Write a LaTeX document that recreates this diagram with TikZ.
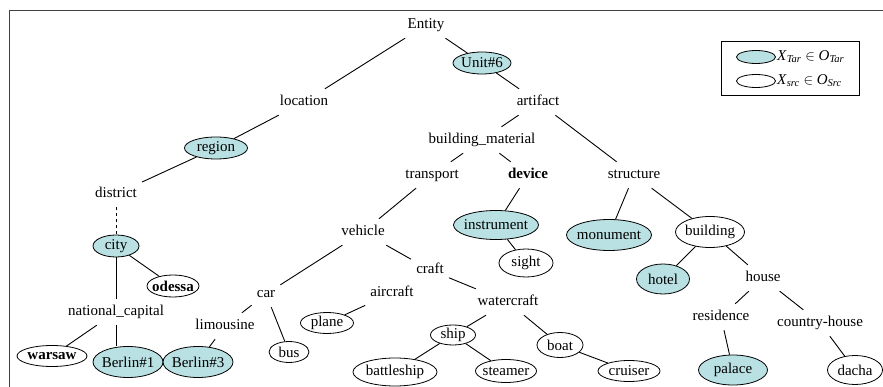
\documentclass[tikz,border=0pt]{standalone}
\usepackage{fontspec}
\setmainfont{Liberation Serif}
\usetikzlibrary{shapes.geometric}
\definecolor{tarfill}{RGB}{185,224,226}
\newcommand{\fs}{\fontsize{15}{18}\selectfont}
\tikzset{
  lbl/.style={font=\fs, inner xsep=5pt, inner ysep=6pt, text height=10.5pt, text depth=3.5pt},
  tar/.style={ellipse, draw, fill=tarfill, line width=0.8pt, inner xsep=-5pt, inner ysep=-3pt, font=\fs},
  srcn/.style={ellipse, draw, fill=white, line width=0.8pt, inner xsep=-5pt, inner ysep=-3pt, font=\fs},
  sz/.style 2 args={minimum width=#1pt, minimum height=#2pt},
  edge/.style={line width=0.9pt},
}
\begin{document}
\begin{tikzpicture}[x=1pt,y=-1pt]
\useasboundingbox (0,0) rectangle (883,387);
\draw[line width=1.3pt, black!75] (883,10.5) -- (9.5,10.5) -- (9.5,387);

% nodes
\node[lbl] (entity) at (426,25) {Entity};
\node[tar, sz={58}{22}] (unit6) at (482,63) {Unit\#6};
\node[lbl] (location) at (304,102) {location};
\node[lbl] (artifact) at (538,102) {artifact};
\node[tar, sz={63}{22}] (region) at (216,148) {region};
\node[lbl] (bm) at (482,140) {building\_material};
\node[lbl] (district) at (116,194) {district};
\node[lbl] (transport) at (432,175) {transport};
\node[lbl, font=\fs\bfseries] (device) at (528,175) {device};
\node[lbl] (structure) at (634,175) {structure};
\node[lbl] (vehicle) at (363,232) {vehicle};
\node[tar, sz={85}{29}] (instrument) at (496,225) {instrument};
\node[tar, sz={85}{31}] (monument) at (609,235) {monument};
\node[srcn, sz={69}{31}] (building) at (710,232) {building};
\node[srcn, sz={54}{28}] (sight) at (526,263) {sight};
\node[tar, sz={53}{30}] (hotel) at (663,279) {hotel};
\node[lbl] (house) at (763,278) {house};
\node[tar, sz={46}{22}] (city) at (116,246) {city};
\node[srcn, sz={52}{22}, font=\fs\bfseries] (odessa) at (173,286) {odessa};
\node[lbl] (craft) at (430,270) {craft};
\node[lbl] (aircraft) at (392,293) {aircraft};
\node[lbl] (car) at (266,294) {car};
\node[lbl] (natcap) at (116,312) {national\_capital};
\node[lbl] (limousine) at (225,326) {limousine};
\node[srcn, sz={53}{21}] (plane) at (327,323) {plane};
\node[lbl] (watercraft) at (508,302) {watercraft};
\node[lbl] (residence) at (721,317) {residence};
\node[lbl] (countryhouse) at (820,323) {country-house};
\node[srcn, sz={45}{20}] (ship) at (453,335) {ship};
\node[srcn, sz={46}{25}] (boat) at (560,345) {boat};
\node[srcn, sz={40}{21}] (bus) at (289,352) {bus};
\node[srcn, sz={70}{21}, font=\fs\bfseries] (warsaw) at (52,356) {warsaw};
\node[tar, sz={70}{31}] (berlin1) at (128,362) {Berlin\#1};
\node[tar, sz={70}{31}] (berlin3) at (198,362) {Berlin\#3};
\node[srcn, sz={84}{28}] (battleship) at (395,372) {battleship};
\node[srcn, sz={61}{23}] (steamer) at (506,371) {steamer};
\node[srcn, sz={62}{21}] (cruiser) at (629,371) {cruiser};
\node[tar, sz={69}{30}] (palace) at (733,370) {palace};
\node[srcn, sz={55}{29}] (dacha) at (855,370) {dacha};

% edges
\draw[edge] (entity) -- (location);
\draw[edge] (entity) -- (unit6);
\draw[edge] (unit6) -- (artifact);
\draw[edge] (location) -- (region);
\draw[edge] (region) -- (district);
\draw[edge] (artifact) -- (bm);
\draw[edge] (artifact) -- (structure);
\draw[edge] (bm) -- (transport);
\draw[edge] (bm) -- (device);
\draw[edge] (structure) -- (monument);
\draw[edge] (structure) -- (building);
\draw[edge] (device) -- (instrument);
\draw[edge] (instrument) -- (sight);
\draw[edge] (transport) -- (vehicle);
\draw[edge, dashed] (district) -- (city);
\draw[edge] (city) -- (odessa);
\draw[edge] (city) -- (natcap);
\draw[edge] (natcap) -- (warsaw);
\draw[edge] (natcap.south) -- (natcap.south |- berlin1.north);
\draw[edge] (limousine) -- (berlin3);
\draw[edge] (vehicle) -- (car);
\draw[edge] (vehicle) -- (craft);
\draw[edge] (car) -- (limousine);
\draw[edge] (car) -- (bus);
\draw[edge] (aircraft) -- (plane);
\draw[edge] (craft) -- (watercraft);
\draw[edge] (watercraft) -- (ship);
\draw[edge] (watercraft) -- (boat);
\draw[edge] (ship) -- (battleship);
\draw[edge] (ship) -- (steamer);
\draw[edge] (boat) -- (cruiser);
\draw[edge] (building) -- (hotel);
\draw[edge] (building) -- (house);
\draw[edge] (house) -- (residence);
\draw[edge] (house) -- (countryhouse);
\draw[edge] (residence) -- (palace);
\draw[edge] (countryhouse) -- (dacha);

% legend
\node[draw, line width=1pt, minimum width=138pt, minimum height=54pt, inner sep=0pt] (legend) at (790,69) {};
\node[tar, sz={39}{13}, inner sep=0pt] (legtar) at (756,57) {};
\node[srcn, sz={39}{13}, inner sep=0pt] (legsrc) at (756,81) {};
\node[font=\fs, anchor=west, inner sep=1pt] (legtartxt) at (776,57) {\textit{X}\textsubscript{\textit{Tar}} $\in$ \textit{O}\textsubscript{\textit{Tar}}};
\node[font=\fs, anchor=west, inner sep=1pt] (legsrctxt) at (776,81) {\textit{X}\textsubscript{\textit{src}} $\in$ \textit{O}\textsubscript{\textit{Src}}};
\end{tikzpicture}
\end{document}
